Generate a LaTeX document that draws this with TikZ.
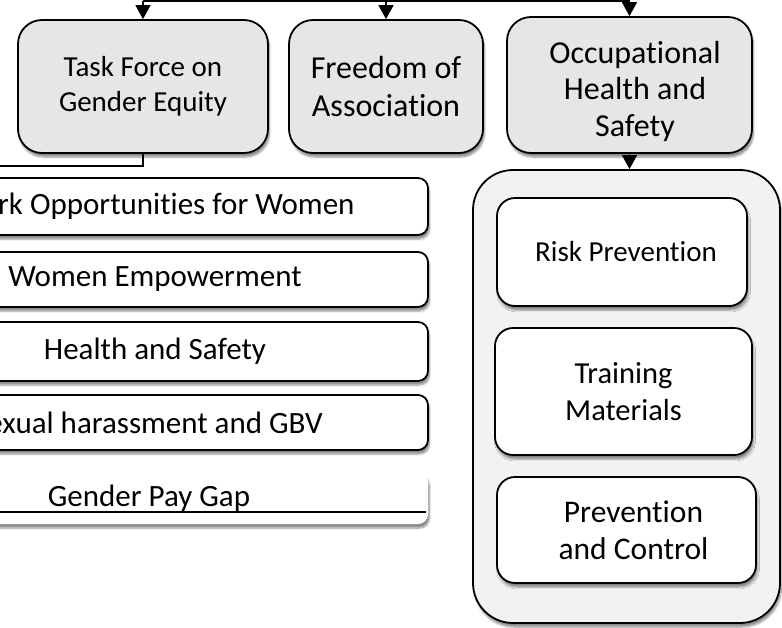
\documentclass[tikz,border=0pt]{standalone}
\usepackage{fontspec}
\setmainfont{Carlito}[Ligatures=NoCommon]
\usetikzlibrary{shadows.blur,arrows.meta}
\definecolor{topfill}{HTML}{E6E6E6}
\definecolor{contfill}{HTML}{F2F2F2}
\begin{document}
\begin{tikzpicture}[x=1pt,y=-1pt,
  shad/.style={blur shadow={shadow xshift=1.5pt, shadow yshift=-4pt, shadow blur steps=6, shadow opacity=45}},
  box/.style={draw=black, line width=1.8pt, align=center, inner sep=0pt, shad},
  topbox/.style={box, fill=topfill, rounded corners=24pt},
  leftbox/.style={box, fill=white, rounded corners=10pt, minimum width=546pt, minimum height=57pt, font=\fontsize{31}{37}\selectfont},
  innerbox/.style={box, fill=white, rounded corners=18pt},
  conn/.style={line width=1.5pt},
  arr/.style={conn, -{Triangle[length=14pt,width=15pt]}}]
\useasboundingbox (0,0) rectangle (782,627);
\clip (0,0) rectangle (782,627);
% top row
\node[topbox, minimum width=250pt, minimum height=133pt, font=\fontsize{29}{35}\selectfont] (tf) at (143,86.5) {Task Force on\\Gender Equity};
\node[topbox, minimum width=194pt, minimum height=133pt, font=\fontsize{32}{38}\selectfont] (fa) at (386,86.5) {Freedom of\\Association};
\node[topbox, minimum width=245pt, minimum height=136pt] (oh) at (629.5,85) {};
\node[align=center, inner sep=0pt, font=\fontsize{32}{36.5}\selectfont] (ohtext) at (635,91) {Occupational\\Health and\\Safety};
% container
\node[draw=black, line width=1.8pt, fill=contfill, rounded corners=40pt, minimum width=307pt, minimum height=453pt, shad] (cont) at (626.5,396.5) {};
\node[innerbox, minimum width=250pt, minimum height=108pt, font=\fontsize{29}{35}\selectfont] (rp) at (622,252) {\hspace*{8pt}Risk Prevention};
\node[innerbox, minimum width=257pt, minimum height=127pt, font=\fontsize{30.5}{37}\selectfont] (tm) at (623.5,391.5) {Training\\Materials};
\node[innerbox, minimum width=259pt, minimum height=106pt, font=\fontsize{31.5}{37}\selectfont] (pc) at (626.5,530) {\hspace*{14pt}Prevention\\\hspace*{14pt}and Control};
% left list
\node[leftbox] (wo) at (155,206.5) {Work Opportunities for Women};
\node[leftbox, minimum height=55pt] (we) at (155,279.5) {Women Empowerment};
\node[leftbox, minimum height=59pt] (hs) at (155,351.5) {Health and Safety};
\node[leftbox, minimum height=55pt, minimum width=560pt] (sh) at (148,422.5) {Sexual harassment and GBV};
\node[leftbox, draw=none, minimum height=52pt, minimum width=558pt] (gp) at (149,498) {Gender Pay Gap};
\coordinate (ul) at (0,512);
\draw[conn] (gp.west |- ul) -- ([xshift=-3pt]gp.east |- ul);
% connectors
\coordinate (topy) at (0,0.8);
\draw[conn] (tf.north |- topy) -- (oh.north |- topy);
\draw[arr] (tf.north |- topy) -- (tf.north);
\draw[arr] (fa.north |- topy) -- (fa.north);
\draw[arr] (oh.north |- topy) -- (oh.north);
\coordinate (lft) at (-5,166);
\draw[conn] (tf.south) |- (lft);
\draw[arr] (oh.south) -- (oh.south |- cont.north);
\end{tikzpicture}
\end{document}
